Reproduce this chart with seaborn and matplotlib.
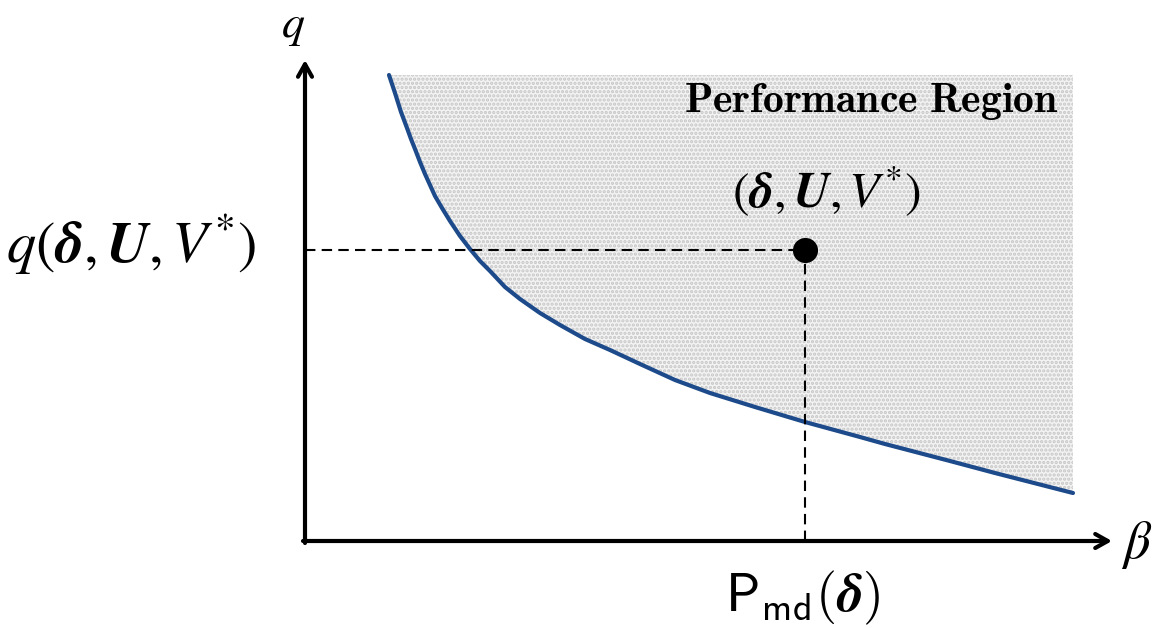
import matplotlib
matplotlib.use("Agg")
import matplotlib.pyplot as plt
import seaborn as sns
import pandas as pd

# ---- data (conceptual coordinates: beta on x, q on y) ----
curve_beta = [0.84, 0.90, 0.96, 1.02, 1.06, 1.10, 1.15, 1.20, 1.25, 1.30, 1.37, 1.45,
              1.55, 1.65, 1.75, 1.85, 2.00, 2.15, 2.35, 2.55, 2.80, 3.05, 3.35, 3.70,
              4.05, 4.50, 5.00, 5.55, 5.80, 6.45, 6.90, 7.68]
curve_q = [4.66, 4.48, 4.29, 4.13, 4.02, 3.92, 3.79, 3.67, 3.56, 3.45, 3.33, 3.20,
           3.05, 2.92, 2.80, 2.70, 2.54, 2.42, 2.28, 2.16, 2.02, 1.91, 1.77, 1.61,
           1.48, 1.34, 1.19, 1.04, 0.97, 0.80, 0.68, 0.48]
point_beta = [5.00]
point_q = [2.91]
region_top = 4.66
axis_x_end = 8.07
axis_y_end = 4.81

sns.set_theme(style="white")
plt.rcParams["font.family"] = ["DejaVu Sans"]
plt.rcParams["text.color"] = "black"
plt.rcParams["hatch.linewidth"] = 1.6

fig = plt.figure(figsize=(11.55, 6.28), dpi=100)
ax = fig.add_axes([0, 0, 1, 1])
ax.set_xlim(-3.05, 8.50)
ax.set_ylim(-0.87, 5.41)
ax.axis("off")

df = pd.DataFrame({"beta": curve_beta, "q": curve_q})

# shaded performance region
ax.fill_between(curve_beta, curve_q, region_top, facecolor="#f3f3f3",
                edgecolor="#c6c6c6", hatch="....", linewidth=0, zorder=1)

# curve
sns.lineplot(data=df, x="beta", y="q", ax=ax, color="#1d4a8a", linewidth=3.0,
             zorder=3, sort=False)

# dashed guides
ax.plot([0, point_beta[0]], [point_q[0], point_q[0]], color="black", lw=1.5,
        dashes=(5, 3), zorder=4)
ax.plot([point_beta[0], point_beta[0]], [0, point_q[0]], color="black", lw=1.5,
        dashes=(5, 3), zorder=4)

# point
sns.scatterplot(x=point_beta, y=point_q, ax=ax, color="black", s=280,
                edgecolor="black", zorder=5)

# axes with arrows
ap = dict(arrowstyle="->,head_length=0.75,head_width=0.42", color="black",
          lw=3.0, shrinkA=0, shrinkB=0)
ax.annotate("", xy=(axis_x_end, 0), xytext=(-0.02, 0), arrowprops=ap, zorder=6)
ax.annotate("", xy=(0, axis_y_end), xytext=(0, -0.02), arrowprops=ap, zorder=6)

# labels
ax.text(-0.12, 5.15, r"$q$", fontsize=33, ha="center", va="center",
        math_fontfamily="stix", color="black")
ax.text(-1.74, 2.96, r"$q(\boldsymbol{\delta}, \boldsymbol{U}, V^{*})$", fontsize=42,
        ha="center", va="center", math_fontfamily="stix", color="black")
ax.text(5.21, 3.49, r"$(\boldsymbol{\delta}, \boldsymbol{U}, V^{*})$", fontsize=36,
        ha="center", va="center", math_fontfamily="stix", color="black")
ax.text(5.66, 4.40, r"$\mathbf{Performance\ Region}$", fontsize=30,
        ha="center", va="center", math_fontfamily="cm", color="black")
ax.text(4.98, -0.57, r"$\mathsf{P}_{\mathsf{md}}(\boldsymbol{\delta})$", fontsize=39,
        ha="center", va="center", math_fontfamily="cm", color="black")
ax.text(8.32, -0.04, r"$\beta$", fontsize=38, ha="center", va="center",
        math_fontfamily="stix", color="black")

fig.savefig("out.png", dpi=100)
